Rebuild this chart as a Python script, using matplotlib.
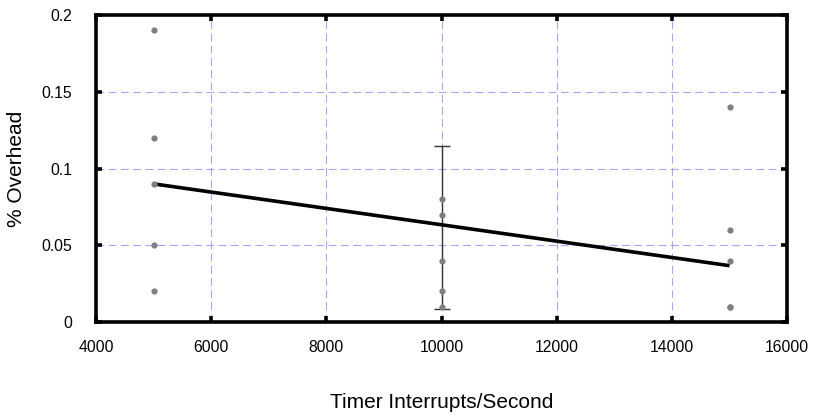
import matplotlib.pyplot as plt
from matplotlib.ticker import FuncFormatter

plt.rcParams['font.family'] = ['Liberation Sans', 'DejaVu Sans']

# raw overhead samples per interrupt rate
x_5000 = [5000, 5000, 5000, 5000, 5000]
y_5000 = [0.19, 0.12, 0.09, 0.05, 0.02]
x_10000 = [10000, 10000, 10000, 10000, 10000]
y_10000 = [0.08, 0.07, 0.04, 0.02, 0.01]
x_15000 = [15000, 15000, 15000, 15000, 15000]
y_15000 = [0.14, 0.06, 0.04, 0.01, 0.01]

# fitted trend line
fit_x = [5000, 15000]
fit_y = [0.09, 0.0367]

# error bar at 10000
err_x = 10000
err_lo = 0.0083
err_hi = 0.1149

fig = plt.figure(figsize=(8.14, 4.19), dpi=100)
ax = fig.add_axes([0.118, 0.2315, 0.849, 0.7325])

pts_x = x_5000 + x_10000 + x_15000
pts_y = y_5000 + y_10000 + y_15000

err_mid = (err_lo + err_hi) / 2
ax.errorbar([err_x], [err_mid], yerr=[[err_mid - err_lo], [err_hi - err_mid]],
            fmt='none', ecolor='#333333', elinewidth=1.0, capsize=5.5, capthick=1.0, zorder=3)
ax.plot(fit_x, fit_y, color='black', lw=2.6, solid_capstyle='butt', zorder=4)
ax.plot(pts_x, pts_y, 'o', color='#7f7f7f', markersize=4.5, markeredgewidth=0, zorder=5)

ax.set_xlim(4000, 16000)
ax.set_ylim(0, 0.2)
ax.set_xticks([4000, 6000, 8000, 10000, 12000, 14000, 16000])
ax.set_yticks([0, 0.05, 0.1, 0.15, 0.2])
ax.yaxis.set_major_formatter(FuncFormatter(lambda v, p: '%g' % v))

# grid lines look blue, keep them saturated so blurred ones stay blue
ax.grid(True, color='#9090ff', lw=0.8, alpha=0.8, linestyle=(0, (7, 4)))
ax.set_axisbelow(True)

for s in ax.spines.values():
    s.set_linewidth(2.6)
ax.tick_params(direction='in', length=4, width=2.6, top=True, right=True,
               labelsize=11.3, pad=13)
ax.tick_params(axis='y', pad=17)

ax.set_xlabel('Timer Interrupts/Second', fontsize=15, labelpad=27)
ax.set_ylabel('% Overhead', fontsize=15, labelpad=11)

fig.savefig('out.png', dpi=100)
